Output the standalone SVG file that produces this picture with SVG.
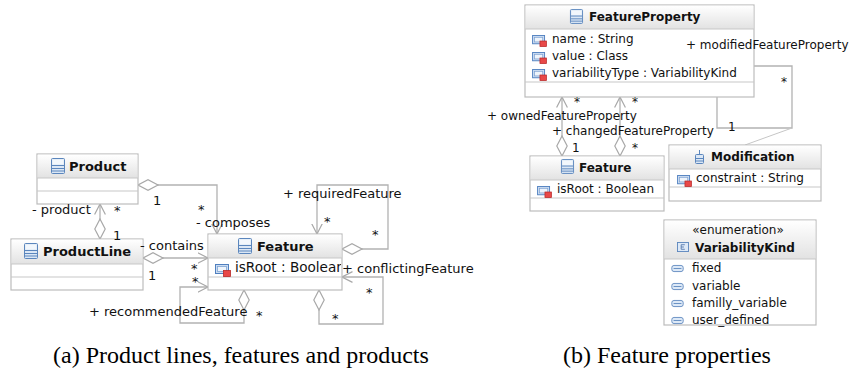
<svg xmlns="http://www.w3.org/2000/svg" xmlns:xlink="http://www.w3.org/1999/xlink" width="853" height="372" viewBox="0 0 853 372">
<style>
.box{fill:#ffffff;stroke:#bcbcbc;stroke-width:1.2}
.hdr{fill:url(#hg)}
.sep{stroke:#c8c8c8;stroke-width:1.2}
.conn{fill:none;stroke:#b2b2b2;stroke-width:1.3}
.thin{fill:none;stroke:#c6c6c6;stroke-width:1}
.ta{font-family:"DejaVu Sans",sans-serif;font-size:13px;fill:#111}
.tb{font-family:"DejaVu Sans",sans-serif;font-size:12px;fill:#111}
.ba{font-family:"DejaVu Sans",sans-serif;font-size:13px;font-weight:bold;fill:#111}
.bb{font-family:"DejaVu Sans",sans-serif;font-size:12px;font-weight:bold;fill:#111}
.cap{font-family:"Liberation Serif","Times New Roman",serif;font-size:24px;fill:#000}
</style>
<defs>
<linearGradient id="hg" x1="0" y1="0" x2="0" y2="1">
<stop offset="0" stop-color="#ffffff"/>
<stop offset="1" stop-color="#e2e2e2"/>
</linearGradient>
<marker id="arr" markerUnits="userSpaceOnUse" markerWidth="12" markerHeight="12" refX="10.5" refY="6" orient="auto" viewBox="0 0 12 12">
<path d="M0,0.6 L10.5,6 L0,11.4" fill="none" stroke="#a8a8a8" stroke-width="1.2"/>
</marker>
<marker id="dia" markerUnits="userSpaceOnUse" markerWidth="22" markerHeight="12" refX="0.5" refY="6" orient="auto" viewBox="0 0 22 12">
<path d="M0.5,6 L10.5,0.8 L20.5,6 L10.5,11.2 Z" fill="#ffffff" stroke="#a8a8a8" stroke-width="1.2"/>
</marker>
<symbol id="icClass" viewBox="0 0 14 16" overflow="visible">
<rect x="0.5" y="0.5" width="13" height="15" rx="1" fill="#dbe7f5" stroke="#5b86bd" stroke-width="1"/>
<rect x="1.5" y="1.5" width="11" height="5" fill="#f2f7fc"/>
<line x1="1" y1="7.5" x2="13" y2="7.5" stroke="#5b86bd"/>
<line x1="1" y1="10.5" x2="13" y2="10.5" stroke="#5b86bd"/>
<line x1="1" y1="13" x2="13" y2="13" stroke="#5b86bd"/>
</symbol>
<symbol id="icAttr" viewBox="0 0 16 13" overflow="visible">
<rect x="0.5" y="0.5" width="13" height="9" fill="#cbdcf1" stroke="#4f7fbf" stroke-width="1"/>
<rect x="2.5" y="2.5" width="9" height="5" fill="#eef4fb" stroke="#7fa3d3" stroke-width="0.8"/>
<rect x="8.5" y="6.5" width="7" height="6" fill="#e84848" stroke="#b82828" stroke-width="0.8"/>
</symbol>
<symbol id="icLit" viewBox="0 0 14 8" overflow="visible">
<rect x="0.5" y="0.5" width="13" height="7" rx="2.5" fill="#dde9f7" stroke="#5b86bd" stroke-width="1"/>
<line x1="2.5" y1="4" x2="11.5" y2="4" stroke="#5b86bd" stroke-width="1"/>
</symbol>
<symbol id="icEnum" viewBox="0 0 13 11" overflow="visible">
<rect x="0.5" y="0.5" width="12" height="10" fill="#dde9f7" stroke="#5b86bd" stroke-width="1"/>
<path d="M4.5,3 H8.5 M4.5,3 V8 H8.5 M4.5,5.5 H7.5" fill="none" stroke="#4a6fa8" stroke-width="0.9"/>
</symbol>
<symbol id="icAssoc" viewBox="0 0 9 14" overflow="visible">
<line x1="4.5" y1="0" x2="4.5" y2="5" stroke="#5b86bd" stroke-width="1"/>
<rect x="0.5" y="4.5" width="8" height="9" rx="1" fill="#dbe7f5" stroke="#5b86bd" stroke-width="1"/>
<line x1="1" y1="8.5" x2="8" y2="8.5" stroke="#5b86bd"/>
<line x1="1" y1="11" x2="8" y2="11" stroke="#5b86bd"/>
</symbol>
<clipPath id="clipFa"><rect x="208" y="258" width="133" height="19"/></clipPath>
</defs>

<g id="connectors">
<path class="conn" d="M138,185 H217 V234" marker-start="url(#dia)" marker-end="url(#arr)"/>
<path class="conn" d="M100,239 V204" marker-start="url(#dia)" marker-end="url(#arr)"/>
<path class="conn" d="M143,258 H208" marker-start="url(#dia)" marker-end="url(#arr)"/>
<path class="conn" d="M244,290 V323 H180 V287 H208" marker-start="url(#dia)" marker-end="url(#arr)"/>
<path class="conn" d="M342,249 H388 V185 H317 V234" marker-start="url(#dia)" marker-end="url(#arr)"/>
<path class="conn" d="M319,290 V324 H383 V277 H342" marker-start="url(#dia)" marker-end="url(#arr)"/>
<path class="conn" d="M562,156 V97" marker-start="url(#dia)" marker-end="url(#arr)"/>
<path class="conn" d="M620,156 V97" marker-start="url(#dia)" marker-end="url(#arr)"/>
<path class="conn" d="M717,97 V128 H792 V66 H754"/>
<path class="thin" d="M792,128 L745,145"/>
</g>

<g id="Product">
<rect class="box" x="37" y="154" width="101" height="50"/>
<rect class="hdr" x="37.6" y="154.6" width="99.8" height="23.4"/>
<line class="sep" x1="37" y1="178" x2="138" y2="178"/>
<line class="sep" x1="37" y1="191" x2="138" y2="191"/>
<use href="#icClass" x="51" y="158" width="14" height="16"/>
<text class="ba" x="69" y="171">Product</text>
</g>

<g id="ProductLine">
<rect class="box" x="11" y="239" width="132" height="51"/>
<rect class="hdr" x="11.6" y="239.6" width="130.8" height="24.4"/>
<line class="sep" x1="11" y1="264" x2="143" y2="264"/>
<line class="sep" x1="11" y1="277" x2="143" y2="277"/>
<use href="#icClass" x="24" y="243" width="14" height="16"/>
<text class="ba" x="43" y="256">ProductLine</text>
</g>

<g id="FeatureA">
<rect class="box" x="208" y="234" width="134" height="56"/>
<rect class="hdr" x="208.6" y="234.6" width="132.8" height="23.4"/>
<line class="sep" x1="208" y1="258" x2="342" y2="258"/>
<line class="sep" x1="208" y1="277" x2="342" y2="277"/>
<use href="#icClass" x="238" y="238" width="14" height="16"/>
<text class="ba" x="257" y="251">Feature</text>
<use href="#icAttr" x="215" y="264" width="16" height="13"/>
<text class="ta" x="235" y="272" style="font-size:13.6px" clip-path="url(#clipFa)">isRoot : Boolean</text>
</g>

<g id="FeatureProperty">
<rect class="box" x="525" y="5" width="229" height="92"/>
<rect class="hdr" x="525.6" y="5.6" width="227.8" height="23.4"/>
<line class="sep" x1="525" y1="29" x2="754" y2="29"/>
<line class="sep" x1="525" y1="82" x2="754" y2="82"/>
<use href="#icClass" x="570" y="9" width="13" height="15"/>
<text class="bb" x="589" y="21">FeatureProperty</text>
<use href="#icAttr" x="532" y="35" width="15" height="12"/>
<text class="tb" x="552" y="43">name : String</text>
<use href="#icAttr" x="532" y="52" width="15" height="12"/>
<text class="tb" x="552" y="60">value : Class</text>
<use href="#icAttr" x="532" y="69" width="15" height="12"/>
<text class="tb" x="552" y="77">variabilityType : VariabilityKind</text>
</g>

<g id="FeatureB">
<rect class="box" x="530" y="156" width="134" height="55"/>
<rect class="hdr" x="530.6" y="156.6" width="132.8" height="23.4"/>
<line class="sep" x1="530" y1="180" x2="664" y2="180"/>
<line class="sep" x1="530" y1="198" x2="664" y2="198"/>
<use href="#icClass" x="561" y="159" width="13" height="15"/>
<text class="bb" x="579" y="172">Feature</text>
<use href="#icAttr" x="537" y="186" width="15" height="12"/>
<text class="tb" x="557" y="193">isRoot : Boolean</text>
</g>

<g id="Modification">
<rect class="box" x="669" y="145" width="152" height="56"/>
<rect class="hdr" x="669.6" y="145.6" width="150.8" height="23.4"/>
<line class="sep" x1="669" y1="169" x2="821" y2="169"/>
<line class="sep" x1="669" y1="187" x2="821" y2="187"/>
<use href="#icAssoc" x="695" y="150" width="9" height="14"/>
<text class="bb" x="711" y="161">Modification</text>
<use href="#icAttr" x="677" y="175" width="15" height="12"/>
<text class="tb" x="696" y="182">constraint : String</text>
</g>

<g id="VariabilityKind">
<rect class="box" x="664" y="220" width="152" height="105"/>
<rect class="hdr" x="664.6" y="220.6" width="150.8" height="38.4"/>
<line class="sep" x1="664" y1="259" x2="816" y2="259"/>
<text class="tb" x="738" y="234" text-anchor="middle">«enumeration»</text>
<use href="#icEnum" x="677" y="242" width="12" height="10"/>
<text class="bb" x="695" y="252">VariabilityKind</text>
<use href="#icLit" x="671" y="265" width="13" height="7"/>
<text class="tb" x="692" y="272">fixed</text>
<use href="#icLit" x="671" y="283" width="13" height="7"/>
<text class="tb" x="692" y="290">variable</text>
<use href="#icLit" x="671" y="300" width="13" height="7"/>
<text class="tb" x="692" y="307">familly_variable</text>
<use href="#icLit" x="671" y="317" width="13" height="7"/>
<text class="tb" x="692" y="324">user_defined</text>
</g>

<g id="connector-labels">
<text class="ta" x="153" y="205">1</text>
<text class="ta" x="198" y="214">*</text>
<text class="ta" x="196" y="227">- composes</text>
<text class="ta" x="32" y="214">- product</text>
<text class="ta" x="114" y="215">*</text>
<text class="ta" x="113" y="240">1</text>
<text class="ta" x="140" y="250">- contains</text>
<text class="ta" x="148" y="280">1</text>
<text class="ta" x="191" y="273">*</text>
<text class="ta" x="192" y="286">*</text>
<text class="ta" x="89" y="316">+ recommendedFeature</text>
<text class="ta" x="256" y="320">*</text>
<text class="ta" x="283" y="198">+ requiredFeature</text>
<text class="ta" x="324" y="226">*</text>
<text class="ta" x="372" y="239">*</text>
<text class="ta" x="342" y="273">+ conflictingFeature</text>
<text class="ta" x="366" y="297">*</text>
<text class="ta" x="332" y="323">*</text>
<text class="tb" x="487" y="120">+ ownedFeatureProperty</text>
<text class="tb" x="574" y="106">*</text>
<text class="tb" x="632" y="106">*</text>
<text class="tb" x="552" y="135">+ changedFeatureProperty</text>
<text class="tb" x="572" y="152">1</text>
<text class="tb" x="632" y="152">*</text>
<text class="tb" x="728" y="131">1</text>
<text class="tb" x="686" y="49">+ modifiedFeatureProperty</text>
<text class="tb" x="781" y="86">*</text>
</g>

<g id="captions">
<text class="cap" x="53" y="363">(a) Product lines, features and products</text>
<text class="cap" x="563" y="363">(b) Feature properties</text>
</g>
</svg>
